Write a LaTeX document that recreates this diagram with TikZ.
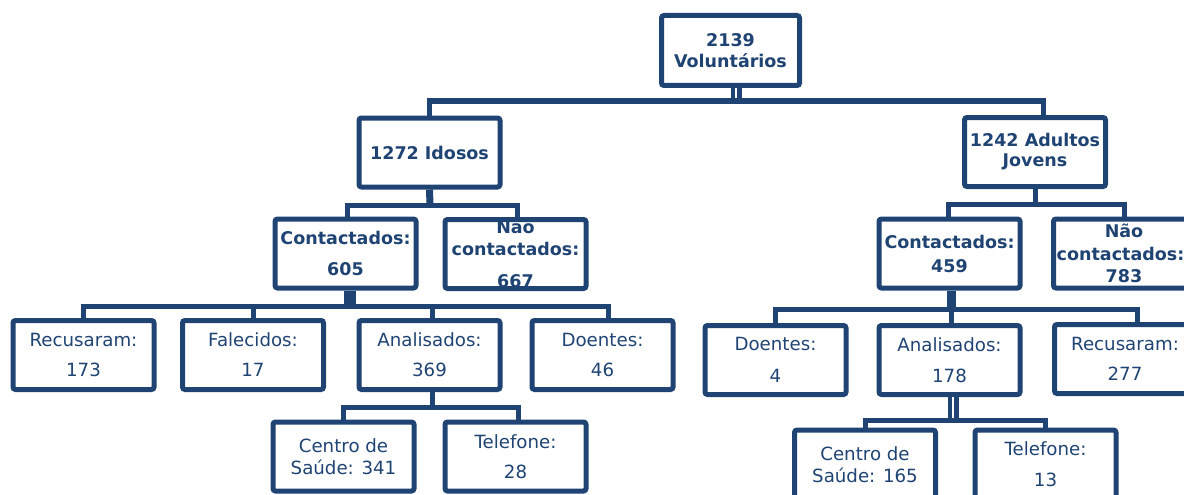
\documentclass[tikz,border=0pt]{standalone}
\usepackage{fontspec}
\setmainfont{DejaVu Sans}
\usepackage{xcolor}
\usepackage{tikz}
\definecolor{navy}{RGB}{31,68,115}

\begin{document}
\begin{tikzpicture}[
    x=1pt, y=-1pt,
    box/.style={draw=navy, line width=5pt, rounded corners=2.5pt, fill=white, text=navy, minimum width=141pt, minimum height=69pt, inner sep=0pt, align=center, font=\fontsize{18.2}{21}\selectfont},
    bbox/.style={box, font=\fontsize{17.5}{21}\selectfont\bfseries},
    link/.style={draw=navy, line width=5pt},
    trunk/.style={draw=navy, line width=#1},
    twin/.style={draw=navy, line width=4.5pt, double=white, double distance=2pt}
]
    \useasboundingbox (0,0) rectangle (1184,495);

    % Node placement
    \node (vol) [bbox, minimum width=138pt, minimum height=70pt] at (730.5,50.5) {2139\\Voluntários};
    \node (idosos) [bbox] at (429.5,152.5) {1272 Idosos};
    \node (adultos) [bbox] at (1035,152) {1242 Adultos\\[-1pt]Jovens};

    \node (contI) [bbox] at (345.5,253.5) {Contactados:\\[10pt]605};
    \node (naoI) [bbox] at (515.5,254) {Não\\[1pt]contactados:\\[11pt]667};
    \node (contA) [bbox] at (949.5,253.5) {Contactados:\\[3pt]459};
    \node (naoA) [bbox] at (1124,253.5) {Não\\[2pt]contactados:\rule{7pt}{0pt}\\[1pt]783};

    \node (recI) [box] at (83.5,355) {Recusaram:\\[9pt]173};
    \node (falI) [box] at (253,355) {Falecidos:\\[9pt]17};
    \node (anaI) [box] at (429.5,355) {Analisados:\\[9pt]369};
    \node (doeI) [box] at (602.5,355) {Doentes:\\[9pt]46};

    \node (doeA) [box] at (775.5,360) {Doentes:\\[11pt]4};
    \node (anaA) [box] at (949.5,360) {Analisados:\\[10pt]178};
    \node (recA) [box] at (1125,359) {Recusaram:\\[9pt]277};

    \node (centI) [box] at (343.5,456.5) {Centro de\\[1pt]Saúde: 341};
    \node (telI) [box] at (515.5,456.5) {Telefone:\\[9pt]28};
    \node (centA) [box] at (865,464.5) {Centro de\\[1pt]Saúde: 165};
    \node (telA) [box] at (1045.5,464.5) {Telefone:\\[10pt]13};

    % Connectors
    \coordinate (bus0) at (736,101);
    \draw[twin] (vol.south -| bus0) -- (bus0);
    \draw[link] (idosos.north) |- (bus0) -| ([xshift=8pt]adultos.north);

    \coordinate (bus1) at (430,205);
    \draw[trunk=7pt] (idosos.south) -- (bus1);
    \draw[link] ([xshift=1.5pt]contI.north) |- (bus1) -| ([xshift=1.5pt]naoI.north);

    \coordinate (bus2) at (1035,204);
    \draw[link] (adultos.south) -- (bus2);
    \draw[link] ([xshift=-1.5pt]contA.north) |- (bus2) -| (naoA.north);

    \coordinate (bus3) at (350,306);
    \draw[trunk=12pt] (contI.south -| bus3) -- (bus3);
    \draw[link] (recI.north) |- (bus3) -| ([xshift=5.5pt]doeI.north);
    \draw[link] (falI.north) -- (falI.north |- bus3);
    \draw[link] ([xshift=2.5pt]anaI.north) -- ([xshift=2.5pt]anaI.north |- bus3);

    \coordinate (bus4) at (951,309);
    \draw[trunk=9pt] (contA.south -| bus4) -- (bus4);
    \draw[link] (doeA.north) |- (bus4) -| ([xshift=12pt]recA.north);
    \draw[link] (anaA.north -| bus4) -- (bus4);

    \coordinate (bus5) at (432,407);
    \draw[link] (anaI.south -| bus5) -- (bus5);
    \draw[link] (centI.north) |- (bus5) -| ([xshift=2.5pt]telI.north);

    \coordinate (bus6) at (953,420);
    \draw[twin] (anaA.south -| bus6) -- (bus6);
    \draw[link] (centA.north) |- (bus6) -| (telA.north);

\end{tikzpicture}
\end{document}
